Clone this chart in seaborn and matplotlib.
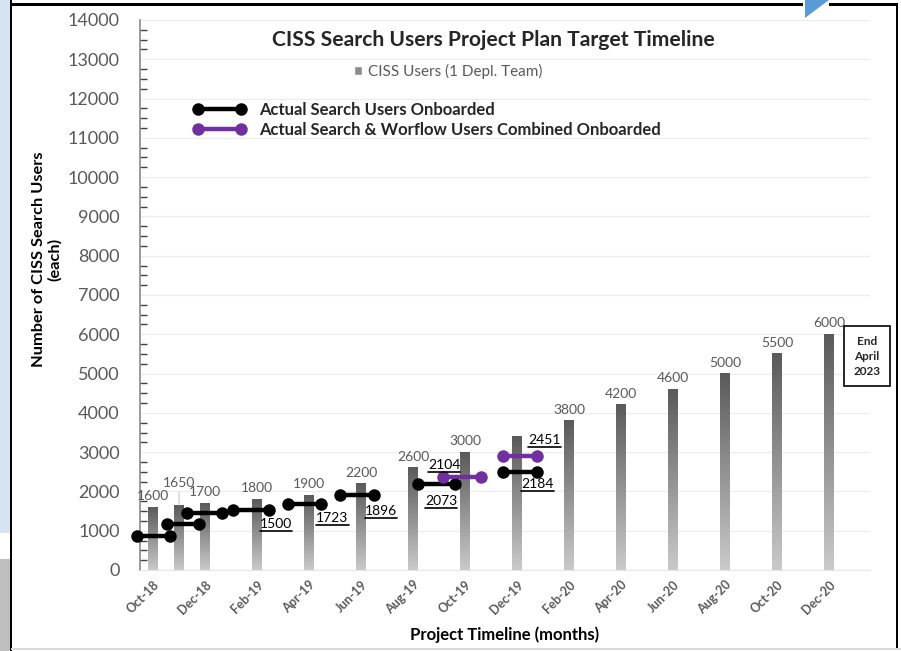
import numpy as np
import pandas as pd
import matplotlib
matplotlib.use("Agg")
import matplotlib.pyplot as plt
import seaborn as sns
from matplotlib.colors import LinearSegmentedColormap
from matplotlib.lines import Line2D
from matplotlib.patches import Rectangle, Polygon
from matplotlib.ticker import MultipleLocator

# ---------------- data ----------------
month_labels = ["Oct-18", "Dec-18", "Feb-19", "Apr-19", "Jun-19", "Aug-19", "Oct-19",
                "Dec-19", "Feb-20", "Apr-20", "Jun-20", "Aug-20", "Oct-20", "Dec-20"]
bar_month = [0, 1, 2, 4, 6, 8, 10, 12, 14, 16, 18, 20, 22, 24, 26]
bar_values = [1600, 1650, 1700, 1800, 1900, 2200, 2600, 3000, 3400, 3800, 4200, 4600, 5000, 5500, 6000]
bar_labels = ["1600", "1650", "1700", "1800", "1900", "2200", "2600", "3000", "",
              "3800", "4200", "4600", "5000", "5500", "6000"]

search_start = [-0.6, 0.54, 1.3, 3.07, 5.2, 7.2, 10.2, 13.46]
search_end = [0.65, 1.77, 2.65, 4.46, 6.46, 8.5, 11.6, 14.77]
search_values = [870, 1170, 1450, 1520, 1690, 1900, 2195, 2505]
combined_start = [11.15, 13.46]
combined_end = [12.6, 14.77]
combined_values = [2380, 2905]

note_text = ["1500", "1723", "1896", "2073", "2104", "2184", "2451"]
note_month = [4.73, 6.9, 8.77, 11.08, 11.2, 14.79, 15.06]
note_value = [1063, 1215, 1392, 1646, 2582, 2076, 3215]

S1 = "Actual Search Users Onboarded"
S2 = "Actual Search & Worflow Users Combined Onboarded"

# ---------------- style ----------------
sns.set_style("white")
plt.rcParams["font.family"] = ["Lato", "DejaVu Sans"]
GRAY = "#595959"

W, H = 901, 651
fig = plt.figure(figsize=(W / 100, H / 100), dpi=100)
fx = lambda px: px / W
fy = lambda py: 1 - py / H
ax = fig.add_axes([fx(140), fy(570), fx(870) - fx(140), fy(20) - fy(570)])

# ---------------- bars ----------------
sns.barplot(x=bar_month, y=bar_values, native_scale=True, width=0.38, color="#888888",
            errorbar=None, ax=ax, zorder=2)
cmap = LinearSegmentedColormap.from_list("g", ["#cacaca", "#5a5a5a"])
grad = np.linspace(0, 1, 256).reshape(-1, 1)
for p in list(ax.patches):
    x0, w, h = p.get_x(), p.get_width(), p.get_height()
    ax.imshow(grad, extent=[x0, x0 + w, 0, h], origin="lower", cmap=cmap,
              aspect="auto", zorder=2, interpolation="bilinear")
    p.set_visible(False)

for m, v, lbl in zip(bar_month, bar_values, bar_labels):
    if not lbl:
        continue
    if lbl == "1650":
        ax.annotate(lbl, (m, v), xytext=(0, 12), textcoords="offset points",
                    ha="center", va="bottom", fontsize=10, color=GRAY, zorder=5,
                    arrowprops=dict(arrowstyle="-", color="#c8c8c8", lw=0.8,
                                    shrinkA=0, shrinkB=0))
    else:
        ax.annotate(lbl, (m, v), xytext=(0, 3.5), textcoords="offset points",
                    ha="center", va="bottom", fontsize=10, color=GRAY, zorder=5)

# ---------------- line segments ----------------
rows = []
for i, (s, e, v) in enumerate(zip(search_start, search_end, search_values)):
    rows += [dict(x=s, y=v, seg=f"a{i}", series=S1), dict(x=e, y=v, seg=f"a{i}", series=S1)]
for i, (s, e, v) in enumerate(zip(combined_start, combined_end, combined_values)):
    rows += [dict(x=s, y=v, seg=f"b{i}", series=S2), dict(x=e, y=v, seg=f"b{i}", series=S2)]
seg_df = pd.DataFrame(rows)
palette = {S1: "black", S2: "#7030A0"}
sns.lineplot(data=seg_df, x="x", y="y", hue="series", units="seg", estimator=None,
             palette=palette, marker="o", markersize=9, markeredgewidth=0,
             linewidth=3.2, sort=False, legend=False, ax=ax, zorder=4)
for ln in ax.get_lines():
    ln.set_clip_on(False)

note_artists = []
for t, m, v in zip(note_text, note_month, note_value):
    note_artists.append(ax.text(m, v, t, ha="center", va="baseline",
                                fontsize=10, color="black", zorder=6))

# ---------------- axes ----------------
ax.set_xlim(-0.5, 27.58)
ax.set_ylim(0, 14000)
ax.set_xticks(range(0, 27, 2))
ax.set_xticklabels(month_labels, rotation=45, ha="right", rotation_mode="anchor",
                   fontsize=9, color=GRAY, fontweight="bold")
ax.tick_params(axis="x", length=0, pad=6)
ax.yaxis.set_major_locator(MultipleLocator(1000))
ax.yaxis.set_minor_locator(MultipleLocator(250))
ax.tick_params(axis="y", which="major", direction="inout", length=12, width=1.2,
               color="#404040", labelsize=13, labelcolor=GRAY, pad=8.5)
ax.tick_params(axis="y", which="minor", direction="in", length=5, width=1,
               color="#404040", left=True)
ax.grid(axis="y", color="#ececec", lw=0.8, zorder=0)
ax.set_axisbelow(True)
for sp in ["top", "right"]:
    ax.spines[sp].set_visible(False)
ax.spines["bottom"].set_color("#e6e6e6")
ax.spines["left"].set_color("#8a8a8a")
ax.spines["left"].set_linewidth(1.2)

ax.set_ylabel("Number of CISS Search Users\n(each)", fontsize=11.8, fontweight="bold",
              color="black", linespacing=1.15)
ax.yaxis.set_label_coords(-0.107, 0.565)
ax.set_xlabel("Project Timeline (months)", fontsize=12, fontweight="bold", color="black")
ax.xaxis.set_label_coords(0.5, -0.103)

ax.text(27.46, 5443, "End\nApril\n2023", ha="center", va="center", fontsize=8.5,
        fontweight="bold", linespacing=1.45, clip_on=False, zorder=6,
        bbox=dict(boxstyle="square,pad=0.8", fc="white", ec="black", lw=1.2))

fig.text(fx(493), fy(40), "CISS Search Users Project Plan Target Timeline",
         ha="center", va="center", fontsize=15.2, fontweight="bold")

leg1 = ax.legend(handles=[Rectangle((0, 0), 1, 1, fc="#8c8c8c")],
                 labels=["CISS Users (1 Depl. Team)"], loc="center",
                 bbox_to_anchor=(fx(448), fy(71)), bbox_transform=fig.transFigure,
                 frameon=False, handlelength=0.55, handleheight=0.55, handletextpad=0.35,
                 fontsize=11, labelcolor=GRAY)
ax.add_artist(leg1)
h2 = [Line2D([0], [0], color="black", lw=3.2, marker="o", ms=9, mew=0),
      Line2D([0], [0], color="#7030A0", lw=3.2, marker="o", ms=9, mew=0)]
leg2 = ax.legend(handles=h2, labels=[S1, S2], loc="center left",
                 bbox_to_anchor=(fx(178), fy(120)), bbox_transform=fig.transFigure,
                 frameon=False, numpoints=2, handlelength=3.2, handletextpad=0.75,
                 labelspacing=0.25, prop=dict(weight="bold", size=12))

# ---------------- frame decorations ----------------
T = fig.transFigure
def frect(x0, y0, x1, y1, color):
    fig.add_artist(Rectangle((fx(x0), fy(y1)), fx(x1) - fx(x0), fy(y0) - fy(y1),
                             transform=T, fc=color, ec="none", lw=0))

frect(0, 0, 11, 533, "#d6e3f1")
frect(0, 559, 11, 651, "#bfbfbf")
frect(10, 0, 12, 651, "black")
frect(11, 3.5, 803, 5.5, "black")
frect(829, 3.5, 898, 5.5, "black")
frect(896, 3.5, 898, 648, "black")
frect(11, 647.5, 901, 649.5, "#d9d9d9")
fig.add_artist(Polygon([(fx(805), fy(0)), (fx(829), fy(0)), (fx(805), fy(18))],
                       closed=True, transform=T, fc="#5b9bd5", ec="none"))

# underline the annotation numbers
fig.canvas.draw()
renderer = fig.canvas.get_renderer()
for t in note_artists:
    bb = t.get_window_extent(renderer)
    _, ybase = ax.transData.transform((0, t.get_position()[1]))
    yl = (ybase - 3) / fig.bbox.height
    fig.add_artist(Line2D([bb.x0 / fig.bbox.width, bb.x1 / fig.bbox.width], [yl, yl],
                          transform=T, color="black", lw=1.2, zorder=6))

fig.savefig("out.png", dpi=100)
